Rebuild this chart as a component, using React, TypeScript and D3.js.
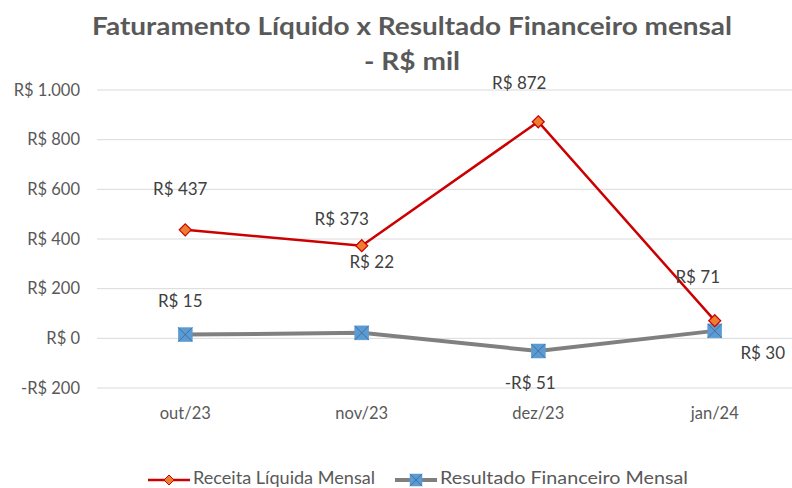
import React from "react";
import * as d3 from "d3";

const categories = ["out/23", "nov/23", "dez/23", "jan/24"];
const receita = [437, 373, 872, 71];
const resultado = [15, 22, -51, 30];
const yTicks = [-200, 0, 200, 400, 600, 800, 1000];
const yTickLabels = ["-R$ 200", "R$ 0", "R$ 200", "R$ 400", "R$ 600", "R$ 800", "R$ 1.000"];
const receitaLabels = ["R$ 437", "R$ 373", "R$ 872", "R$ 71"];
const resultadoLabels = ["R$ 15", "R$ 22", "-R$ 51", "R$ 30"];
// label offsets [dx, dy] relative to point
const receitaOffsets: [number, number][] = [[-5, -35], [-20, -21], [-19, -33], [-17, -38]];
const resultadoOffsets: [number, number][] = [[-5, -28], [10, -65], [-8, 38], [48, 28]];

const W = 792, H = 488;
const FONT = "Lato, 'Open Sans', sans-serif";

export default function App() {
  const x = d3.scaleBand<string>().domain(categories).range([97, 803]);
  const y = d3.scaleLinear().domain([-200, 1000]).range([388, 90]);
  const cx = (c: string) => (x(c) as number) + x.bandwidth() / 2;
  const line = d3.line<number>().x((_, i) => cx(categories[i])).y((d) => y(d));

  const diamond = (px: number, py: number, s = 6) =>
    `M${px},${py - s}L${px + s},${py}L${px},${py + s}L${px - s},${py}Z`;

  const square = (px: number, py: number, key: string, s = 7) => (
    <g key={key}>
      <rect x={px - s} y={py - s} width={2 * s} height={2 * s} fill="#5B9BD5" stroke="#5B9BD5" strokeWidth={0.5} />
      <path d={`M${px - s},${py - s}L${px + s},${py + s}M${px + s},${py - s}L${px - s},${py + s}`} stroke="#4a6f96" strokeWidth={1} />
    </g>
  );

  return (
    <svg width={W} height={H} style={{ position: "absolute", left: 0, top: 0, background: "#fff" }} fontFamily={FONT}>
      <rect width={W} height={H} fill="#fff" />
      <text x={412} y={35} textAnchor="middle" fontSize={25} fontWeight="bold" fill="#595959" textLength={640} lengthAdjust="spacingAndGlyphs">
        Faturamento Líquido x Resultado Financeiro mensal
      </text>
      <text x={412} y={70} textAnchor="middle" fontSize={25} fontWeight="bold" fill="#595959" textLength={96} lengthAdjust="spacingAndGlyphs">
        - R$ mil
      </text>
      {yTicks.map((t, i) => (
        <g key={t}>
          <line x1={97} x2={W} y1={y(t)} y2={y(t)} stroke="#d9d9d9" strokeWidth={1} />
          <text x={80} y={y(t) + 5.5} textAnchor="end" fontSize={16.5} fill="#595959">
            {yTickLabels[i]}
          </text>
        </g>
      ))}
      {categories.map((c) => (
        <text key={c} x={cx(c)} y={419} textAnchor="middle" fontSize={16.5} fill="#595959">
          {c}
        </text>
      ))}
      <path d={line(resultado) || ""} fill="none" stroke="#808080" strokeWidth={4} />
      <path d={line(receita) || ""} fill="none" stroke="#cc0000" strokeWidth={2.5} />
      {resultado.map((v, i) => square(cx(categories[i]), y(v), "s" + i))}
      {receita.map((v, i) => (
        <path key={"d" + i} d={diamond(cx(categories[i]), y(v))} fill="#ED7D31" stroke="#cc0000" strokeWidth={1.2} />
      ))}
      {receita.map((v, i) => (
        <text key={"rl" + i} x={cx(categories[i]) + receitaOffsets[i][0]} y={y(v) + receitaOffsets[i][1]} textAnchor="middle" fontSize={17} fill="#404040">
          {receitaLabels[i]}
        </text>
      ))}
      {resultado.map((v, i) => (
        <text key={"sl" + i} x={cx(categories[i]) + resultadoOffsets[i][0]} y={y(v) + resultadoOffsets[i][1]} textAnchor="middle" fontSize={17} fill="#404040">
          {resultadoLabels[i]}
        </text>
      ))}
      {/* legend */}
      <line x1={148} x2={190} y1={480} y2={480} stroke="#cc0000" strokeWidth={2.5} />
      <path d={diamond(169, 480, 5)} fill="#ED7D31" stroke="#cc0000" strokeWidth={1} />
      <text x={193} y={484} fontSize={16.5} fill="#595959" textLength={182} lengthAdjust="spacingAndGlyphs">Receita Líquida Mensal</text>
      <line x1={395} x2={437} y1={480} y2={480} stroke="#808080" strokeWidth={4} />
      {square(416, 480, "ls", 6)}
      <text x={440} y={484} fontSize={16.5} fill="#595959" textLength={248} lengthAdjust="spacingAndGlyphs">Resultado Financeiro Mensal</text>
    </svg>
  );
}
